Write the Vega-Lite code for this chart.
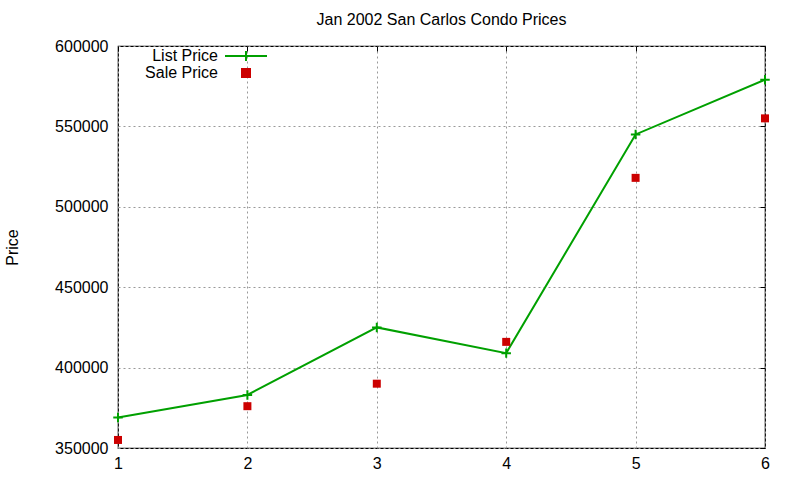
{
  "$schema": "https://vega.github.io/schema/vega-lite/v6.json",
  "autosize": "none",
  "width": 647,
  "height": 402,
  "padding": {"left": 118, "top": 46, "right": 35, "bottom": 32},
  "background": "white",
  "title": {
    "text": "Jan 2002 San Carlos Condo Prices",
    "font": "Liberation Sans",
    "fontSize": 16,
    "fontWeight": "normal",
    "color": "black",
    "anchor": "middle",
    "offset": 10
  },
  "config": {
    "font": "Liberation Sans",
    "view": {"stroke": "black", "strokeWidth": 1.2},
    "axis": {
      "labelFont": "Liberation Sans",
      "labelFontSize": 16,
      "labelColor": "black",
      "labelFlush": false,
      "labelOverlap": false,
      "titleFont": "Liberation Sans",
      "titleFontSize": 16,
      "titleFontWeight": "normal",
      "titleColor": "black",
      "domain": false,
      "gridColor": "#999999",
      "gridDash": [2, 3],
      "gridWidth": 1,
      "gridOpacity": 1,
      "tickColor": "black"
    }
  },
  "data": {
    "values": [
      {"house": 1, "series": "List Price", "price": 369000},
      {"house": 2, "series": "List Price", "price": 383000},
      {"house": 3, "series": "List Price", "price": 425000},
      {"house": 4, "series": "List Price", "price": 409000},
      {"house": 5, "series": "List Price", "price": 545000},
      {"house": 6, "series": "List Price", "price": 579000},
      {"house": 1, "series": "Sale Price", "price": 355000},
      {"house": 2, "series": "Sale Price", "price": 376000},
      {"house": 3, "series": "Sale Price", "price": 390000},
      {"house": 4, "series": "Sale Price", "price": 416000},
      {"house": 5, "series": "Sale Price", "price": 518000},
      {"house": 6, "series": "Sale Price", "price": 555000}
    ]
  },
  "encoding": {
    "color": {
      "field": "series",
      "type": "nominal",
      "scale": {"domain": ["List Price", "Sale Price"], "range": ["#00a000", "#cc0000"]},
      "legend": {
        "title": null,
        "orient": "none",
        "legendX": 120,
        "legendY": 2,
        "labelFont": "Liberation Sans",
        "labelFontSize": 16,
        "labelColor": "black",
        "labelAlign": "right",
        "labelOffset": -36,
        "symbolSize": 64,
        "rowPadding": -4,
        "encode": {
          "symbols": {
            "update": {
              "shape": {"signal": "datum.value === 'List Price' ? 'M-4.2,0H4.2M0,-1V1' : 'square'"},
              "size": {"signal": "datum.value === 'List Price' ? 100 : 64"},
              "fill": {"signal": "datum.value === 'List Price' ? 'transparent' : '#cc0000'"},
              "stroke": {"signal": "datum.value === 'List Price' ? '#00a000' : 'transparent'"},
              "strokeWidth": {"value": 2},
              "opacity": {"value": 1}
            }
          }
        }
      }
    }
  },
  "layer": [
    {
      "transform": [{"filter": "datum.series === 'List Price'"}],
      "mark": {"type": "line", "strokeWidth": 2},
      "encoding": {
        "x": {
          "field": "house",
          "type": "quantitative",
          "scale": {"domain": [1, 6], "nice": false, "zero": false},
          "axis": {"title": null, "orient": "bottom", "values": [1, 2, 3, 4, 5, 6], "format": "d", "ticks": false, "labelPadding": 7, "grid": true}
        },
        "y": {
          "field": "price",
          "type": "quantitative",
          "scale": {"domain": [350000, 600000], "nice": false, "zero": false},
          "axis": {
            "title": "Price",
            "orient": "left",
            "values": [350000, 400000, 450000, 500000, 550000, 600000],
            "format": "d",
            "ticks": false,
            "labelPadding": 10,
            "grid": true,
            "titleX": -106,
            "titleY": 201,
            "titleAngle": -90,
            "titleAlign": "center",
            "titleBaseline": "middle"
          }
        }
      }
    },
    {
      "transform": [{"filter": "datum.series === 'List Price'"}],
      "mark": {"type": "point", "shape": "M-1,0H1M0,-1V1", "size": 90, "strokeWidth": 2, "filled": false, "opacity": 1},
      "encoding": {
        "x": {
          "field": "house",
          "type": "quantitative",
          "axis": {"title": null, "orient": "top", "values": [1, 2, 3, 4, 5, 6], "labels": false, "grid": false, "tickSize": -5}
        },
        "y": {
          "field": "price",
          "type": "quantitative",
          "axis": {"title": null, "orient": "right", "values": [350000, 400000, 450000, 500000, 550000, 600000], "labels": false, "grid": false, "tickSize": -5}
        }
      }
    },
    {
      "transform": [{"filter": "datum.series === 'Sale Price'"}],
      "mark": {"type": "point", "shape": "square", "size": 64, "filled": true, "opacity": 1},
      "encoding": {
        "x": {"field": "house", "type": "quantitative", "axis": null},
        "y": {"field": "price", "type": "quantitative", "axis": null}
      }
    }
  ],
  "resolve": {"axis": {"x": "independent", "y": "independent"}}
}
